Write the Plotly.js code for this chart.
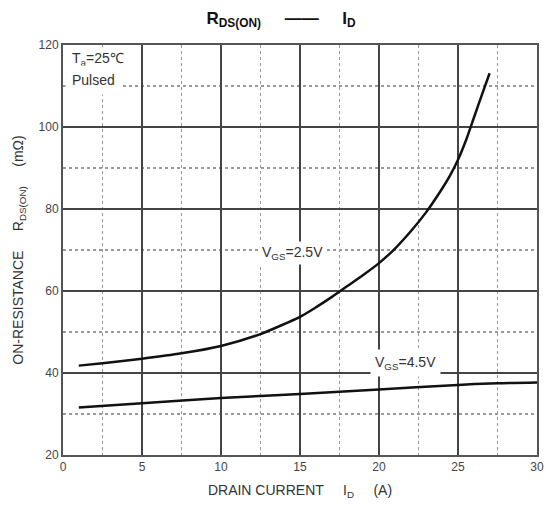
<!DOCTYPE html>
<html>
<head>
<meta charset="utf-8">
<script src="https://cdn.plot.ly/plotly-3.0.1.min.js"></script>
<style>html,body{margin:0;padding:0;background:#fff;}#chart{width:546px;height:506px;}</style>
</head>
<body>
<div id="chart"></div>
<script>
// VGS = 2.5 V curve
const id25 = [1, 2.5, 5, 7.5, 10, 12.5, 15, 16, 17, 18, 19, 20, 21, 22, 23, 24, 24.5, 25, 25.5, 26, 26.5, 27];
const r25  = [41.8, 42.4, 43.5, 44.8, 46.6, 49.5, 53.7, 56, 58.5, 61.2, 63.9, 66.8, 70.3, 74.5, 79.3, 85, 88.2, 92, 96.7, 102.2, 107.7, 113.1];
// VGS = 4.5 V curve
const id45 = [1, 5, 10, 15, 20, 25, 27.5, 30];
const r45  = [31.6, 32.6, 33.9, 34.9, 36.0, 37.1, 37.5, 37.7];
const xTicks = [0, 5, 10, 15, 20, 25, 30];
const yTicks = [20, 40, 60, 80, 100, 120];

const font = "'Liberation Sans', Arial, sans-serif";
const txt = '#333';

const traces = [
  {x: id25, y: r25, mode: 'lines', line: {color: '#111', width: 2.5, shape: 'spline', smoothing: 0.6}, hoverinfo: 'skip'},
  {x: id45, y: r45, mode: 'lines', line: {color: '#111', width: 2.5, shape: 'spline', smoothing: 0.8}, hoverinfo: 'skip'}
];

const axisCommon = {
  showgrid: true, gridcolor: '#444', gridwidth: 1.3,
  showline: true, linecolor: '#555', linewidth: 2, mirror: true,
  zeroline: false, ticks: '', tickfont: {family: font, size: 12, color: '#444'}
};

const layout = {
  width: 546, height: 506,
  margin: {l: 63, r: 9, t: 45, b: 51},
  paper_bgcolor: '#fff', plot_bgcolor: '#fff',
  showlegend: false,
  title: {
    text: '<b>R<sub>DS(ON)</sub>     ——     I<sub>D</sub></b>',
    font: {family: font, size: 17, color: '#111'},
    x: 0.46, xref: 'paper', xanchor: 'center', y: 0.965, yanchor: 'middle'
  },
  xaxis: Object.assign({}, axisCommon, {
    range: [0, 30], tickvals: xTicks, ticktext: xTicks.map(String),
    minor: {dtick: 2.5, tick0: 0, showgrid: true, gridcolor: '#999', griddash: 'dot', gridwidth: 1.2, ticks: ''},
    title: {text: 'DRAIN CURRENT     I<sub>D</sub>     (A)', font: {family: font, size: 14, color: txt}, standoff: 12}
  }),
  yaxis: Object.assign({}, axisCommon, {
    range: [20, 120], tickvals: yTicks, ticktext: yTicks.map(String),
    minor: {dtick: 10, tick0: 20, showgrid: true, gridcolor: '#999', griddash: 'dot', gridwidth: 1.2, ticks: ''},
    title: {text: 'ON-RESISTANCE     R<sub>DS(ON)</sub>     (mΩ)', font: {family: font, size: 14, color: txt}, standoff: 12}
  }),
  annotations: [
    {xref: 'paper', yref: 'paper', x: 0.012, y: 0.995, xanchor: 'left', yanchor: 'top', align: 'left', showarrow: false,
     text: 'T<sub>a</sub>=25℃', font: {family: font, size: 14, color: txt}, bgcolor: '#fff', borderpad: 2},
    {xref: 'paper', yref: 'paper', x: 0.005, y: 0.915, xanchor: 'left', yanchor: 'middle', align: 'left', showarrow: false,
     text: 'Pulsed', font: {family: font, size: 14, color: txt}, bgcolor: '#fff', borderpad: 6},
    {x: 12.4, y: 69.3, xanchor: 'left', yanchor: 'middle', showarrow: false,
     text: 'V<sub>GS</sub>=2.5V', font: {family: font, size: 14, color: txt}, bgcolor: '#fff', borderpad: 2},
    {x: 19.4, y: 42.4, xanchor: 'left', yanchor: 'middle', showarrow: false,
     text: 'V<sub>GS</sub>=4.5V', font: {family: font, size: 14, color: txt}, bgcolor: '#fff', borderpad: 4}
  ]
};

Plotly.newPlot('chart', traces, layout, {staticPlot: true, displayModeBar: false});
</script>
</body>
</html>
